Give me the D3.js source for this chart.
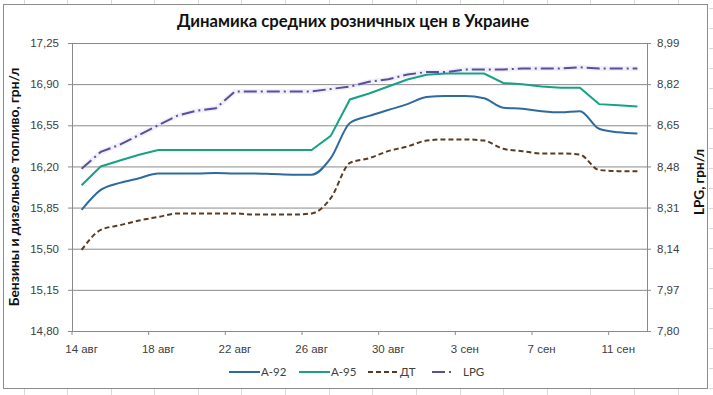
<!DOCTYPE html>
<html>
<head>
<meta charset="utf-8">
<script src="https://cdn.jsdelivr.net/npm/d3@7"></script>
<style>
    body { margin: 0; background: #fff; }
    svg { display: block; font-family: Lato, 'Open Sans', sans-serif; }
</style>
</head>
<body>
<svg id="chart" width="713" height="395"></svg>
<script>
// даты (категории по дням)
const categories = ['14 авг', '15 авг', '16 авг', '17 авг', '18 авг', '19 авг', '20 авг', '21 авг', '22 авг', '23 авг',
    '24 авг', '25 авг', '26 авг', '27 авг', '28 авг', '29 авг', '30 авг', '31 авг', '1 сен', '2 сен',
    '3 сен', '4 сен', '5 сен', '6 сен', '7 сен', '8 сен', '9 сен', '10 сен', '11 сен', '12 сен']
const xTickLabels = ['14 авг', '18 авг', '22 авг', '26 авг', '30 авг', '3 сен', '7 сен', '11 сен']

// цены, грн/л
const a92 = [15.83, 16.00, 16.06, 16.10, 16.14, 16.14, 16.14, 16.145, 16.14, 16.14, 16.135, 16.13, 16.13, 16.27, 16.57,
    16.63, 16.68, 16.73, 16.79, 16.80, 16.80, 16.78, 16.70, 16.69, 16.67, 16.66, 16.67, 16.52, 16.49, 16.48]
const a95 = [16.04, 16.20, 16.25, 16.30, 16.34, 16.34, 16.34, 16.34, 16.34, 16.34, 16.34, 16.34, 16.34, 16.46, 16.77,
    16.82, 16.88, 16.94, 16.98, 16.99, 16.99, 16.99, 16.91, 16.90, 16.88, 16.87, 16.87, 16.73, 16.72, 16.71]
const dt = [15.49, 15.66, 15.70, 15.74, 15.77, 15.80, 15.80, 15.80, 15.80, 15.79, 15.79, 15.79, 15.80, 15.93, 16.23,
    16.27, 16.33, 16.37, 16.42, 16.43, 16.43, 16.42, 16.35, 16.33, 16.31, 16.31, 16.30, 16.17, 16.16, 16.16]
const lpg = [8.47, 8.54, 8.57, 8.61, 8.65, 8.69, 8.71, 8.72, 8.79, 8.79, 8.79, 8.79, 8.79, 8.80, 8.81,
    8.83, 8.84, 8.86, 8.87, 8.87, 8.88, 8.88, 8.88, 8.885, 8.885, 8.885, 8.89, 8.885, 8.885, 8.885]

const leftTicks = [14.80, 15.15, 15.50, 15.85, 16.20, 16.55, 16.90, 17.25]
const rightTicks = [7.80, 7.97, 8.14, 8.31, 8.48, 8.65, 8.82, 8.99]

const seriesNames = ['А-92', 'А-95', 'ДТ', 'LPG']

const svg = d3.select('#chart')
const W = 713, H = 395
const margin = { top: 43, right: 66, bottom: 64, left: 72 }
const x0 = margin.left, x1 = W - margin.right
const y0 = H - margin.bottom, y1 = margin.top

// фон листа excel
svg.append('rect').attr('width', W).attr('height', H).attr('fill', '#fff')
const sheet = svg.append('g').attr('stroke', '#d9d9d9').attr('stroke-width', 1)
for (let cx = 23.5; cx < W; cx += 43.6) {
    sheet.append('line').attr('x1', Math.round(cx) + 0.5).attr('x2', Math.round(cx) + 0.5).attr('y1', 0).attr('y2', 4)
    sheet.append('line').attr('x1', Math.round(cx) + 0.5).attr('x2', Math.round(cx) + 0.5).attr('y1', 389).attr('y2', H)
}
for (let cy = 8.5; cy < H; cy += 20) {
    sheet.append('line').attr('x1', 709).attr('x2', W).attr('y1', cy).attr('y2', cy)
}
svg.append('rect').attr('x', 3.5).attr('y', 4.5).attr('width', 704).attr('height', 384)
    .attr('fill', '#fff').attr('stroke', '#8c8c8c')

const x = d3.scaleBand().domain(categories).range([x0, x1])
const bw = x.bandwidth()
const xc = (d) => x(d) + bw / 2
const yL = d3.scaleLinear().domain([14.8, 17.25]).range([y0, y1])
const yR = d3.scaleLinear().domain([7.8, 8.99]).range([y0, y1])
const fmt = (d) => d3.format('.2f')(d).replace('.', ',')

// сетка
svg.append('g')
    .attr('transform', `translate(${x0}, 0)`)
    .call(d3.axisLeft(yL).tickValues(leftTicks).tickSize(-(x1 - x0)).tickFormat(''))
    .call((g) => g.select('.domain').remove())
    .call((g) => g.selectAll('line').attr('stroke', '#8a8a8a'))

// левая ось
const gYL = svg.append('g')
    .attr('transform', `translate(${x0}, 0)`)
    .call(d3.axisLeft(yL).tickValues(leftTicks).tickSize(4).tickPadding(9).tickFormat(fmt))
gYL.select('.domain').attr('stroke', '#8a8a8a')
gYL.selectAll('line').attr('stroke', '#8a8a8a')
gYL.selectAll('text').attr('fill', '#404040').style('font-size', '11.5px')

// правая ось
const gYR = svg.append('g')
    .attr('transform', `translate(${x1}, 0)`)
    .call(d3.axisRight(yR).tickValues(rightTicks).tickSize(4).tickPadding(6).tickFormat(fmt))
gYR.select('.domain').attr('stroke', '#8a8a8a')
gYR.selectAll('line').attr('stroke', '#8a8a8a')
gYR.selectAll('text').attr('fill', '#404040').style('font-size', '11.5px')

// ось X
const gX = svg.append('g')
    .attr('transform', `translate(0, ${y0})`)
    .call(d3.axisBottom(x).tickValues(xTickLabels).tickSizeInner(4).tickSizeOuter(0).tickPadding(10))
gX.select('.domain').attr('stroke', '#8a8a8a')
gX.selectAll('line').attr('stroke', '#8a8a8a').attr('x1', -bw / 2).attr('x2', -bw / 2)
gX.selectAll('text').attr('fill', '#404040').style('font-size', '11.5px')

// линии
const lineL = (curve) => d3.line().x((d, i) => xc(categories[i])).y((d) => yL(d)).curve(curve)
const lineR = d3.line().x((d, i) => xc(categories[i])).y((d) => yR(d))

const series = [
    { name: seriesNames[0], values: a92, path: lineL(d3.curveMonotoneX), color: '#2d6aa0', dash: null },
    { name: seriesNames[1], values: a95, path: lineL(d3.curveLinear), color: '#17a287', dash: null },
    { name: seriesNames[2], values: dt, path: lineL(d3.curveMonotoneX), color: '#5a3b22', dash: '5,3' },
    { name: seriesNames[3], values: lpg, path: lineR, color: '#574f9c', dash: '13,4,2,4' },
]

const plot = svg.append('g')
// лёгкое свечение LPG
plot.append('path').attr('d', lineR(lpg)).attr('fill', 'none')
    .attr('stroke', '#d6d1f0').attr('stroke-width', 5).attr('opacity', 0.35)

series.forEach((s) => {
    plot.append('path')
        .attr('d', s.path(s.values))
        .attr('fill', 'none')
        .attr('stroke', s.color)
        .attr('stroke-width', 2)
        .attr('stroke-dasharray', s.dash)
})

// заголовок
svg.append('text')
    .attr('x', 353).attr('y', 27)
    .attr('text-anchor', 'middle')
    .style('font-size', '16.7px').style('font-weight', 'bold')
    .attr('fill', '#111')
    .text('Динамика средних розничных цен в Украине')

svg.append('text')
    .attr('transform', `translate(19, ${(y0 + y1) / 2}) rotate(-90)`)
    .attr('text-anchor', 'middle')
    .style('font-size', '13.8px').style('font-weight', 'bold')
    .attr('fill', '#111')
    .text('Бензины и дизельное топливо, грн/л')

svg.append('text')
    .attr('transform', `translate(704, ${(y0 + y1) / 2 - 5}) rotate(-90)`)
    .attr('text-anchor', 'middle')
    .style('font-size', '13.5px').style('font-weight', 'bold')
    .attr('fill', '#111')
    .text('LPG, грн/л')

// легенда
const legendX = [229, 299, 368, 432]
const legend = svg.append('g').attr('transform', 'translate(0, 372)')
series.forEach((s, i) => {
    const g = legend.append('g').attr('transform', `translate(${legendX[i]}, 0)`)
    g.append('line').attr('x1', 0).attr('x2', i == 3 ? 19 : 31).attr('y1', 0).attr('y2', 0)
        .attr('stroke', s.color).attr('stroke-width', 2).attr('stroke-dasharray', s.dash)
    g.append('text').attr('x', i == 3 ? 31 : 32).attr('y', 4)
        .style('font-size', '11.5px').attr('fill', '#404040')
        .text(s.name)
})
</script>
</body>
</html>
